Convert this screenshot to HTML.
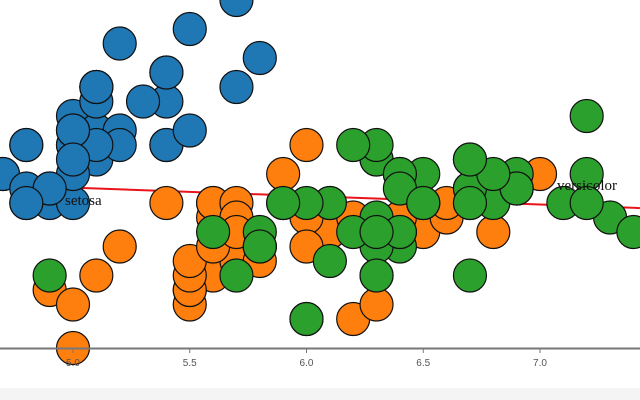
<!DOCTYPE html>
<html><head><meta charset="utf-8"><style>
html,body{margin:0;padding:0;width:640px;height:400px;overflow:hidden;background:#fff}
svg{display:block}
</style></head><body>
<svg id="chart" width="640" height="400">
<rect x="0" y="388" width="640" height="12" fill="#f4f4f4"/>
<g id="ann"></g>
<g id="pts"></g>
<g id="axis"></g>
<g id="labels"></g>
</svg>
<script>
const setosaLen=[5.1,4.9,4.7,4.6,5.0,5.4,4.6,5.0,4.4,4.9,5.4,4.8,4.8,4.3,5.8,5.7,5.4,5.1,5.7,5.1,5.4,5.1,4.6,5.1,4.8,5.0,5.0,5.2,5.2,4.7,4.8,5.4,5.2,5.5,4.9,5.0,5.5,4.9,4.4,5.1,5.0,4.5,4.4,5.0,5.1,4.8,5.1,4.6,5.3,5.0];
const setosaWid=[3.5,3.0,3.2,3.1,3.6,3.9,3.4,3.4,2.9,3.1,3.7,3.4,3.0,3.0,4.0,4.4,3.9,3.5,3.8,3.8,3.4,3.7,3.6,3.3,3.4,3.0,3.4,3.5,3.4,3.2,3.1,3.4,4.1,4.2,3.1,3.2,3.5,3.1,3.0,3.4,3.5,2.3,3.2,3.5,3.8,3.0,3.8,3.2,3.7,3.3];
const versLen=[7.0,6.4,6.9,5.5,6.5,5.7,6.3,4.9,6.6,5.2,5.0,5.9,6.0,6.1,5.6,6.7,5.6,5.8,6.2,5.6,5.9,6.1,6.3,6.1,6.4,6.6,6.8,6.7,6.0,5.7,5.5,5.5,5.8,6.0,5.4,6.0,6.7,6.3,5.6,5.5,5.5,6.1,5.8,5.0,5.6,5.7,5.7,6.2,5.1,5.7];
const versWid=[3.2,3.2,3.1,2.3,2.8,2.8,3.3,2.4,2.9,2.7,2.0,3.0,2.2,2.9,2.9,3.1,3.0,2.7,2.2,2.5,3.2,2.8,2.5,2.8,2.9,3.0,2.8,3.0,2.9,2.6,2.4,2.4,2.7,2.7,3.0,3.4,3.1,2.3,3.0,2.5,2.6,3.0,2.6,2.3,2.7,3.0,2.9,2.9,2.5,2.8];
const virgLen=[6.3,5.8,7.1,6.3,6.5,7.6,4.9,7.3,6.7,7.2,6.5,6.4,6.8,5.7,5.8,6.4,6.5,7.7,7.7,6.0,6.9,5.6,7.7,6.3,6.7,7.2,6.2,6.1,6.4,7.2,7.4,7.9,6.4,6.3,6.1,7.7,6.3,6.4,6.0,6.9,6.7,6.9,5.8,6.8,6.7,6.7,6.3,6.5,6.2,5.9];
const virgWid=[3.3,2.7,3.0,2.9,3.0,3.0,2.5,2.9,2.5,3.6,3.2,2.7,3.0,2.5,2.8,3.2,3.0,3.8,2.6,2.2,3.2,2.8,2.8,2.7,3.3,3.2,2.8,3.0,2.8,3.0,2.8,3.8,2.8,2.8,2.6,3.0,3.4,3.1,3.0,3.1,3.1,3.1,2.7,3.2,3.3,3.0,2.5,3.0,3.4,3.0];
const xTicks=[5.0,5.5,6.0,6.5,7.0];
const xTickLabels=["5.0","5.5","6.0","6.5","7.0"];
const lineXs=[4.687,7.428];
const lineYs=[3.124,2.965];
const NS="http://www.w3.org/2000/svg";
function x(v){return 73+(v-5.0)*233.5;}
function y(v){return 348-(v-2.0)*145;}
function mk(t,a,p){const e=document.createElementNS(NS,t);for(const k in a)e.setAttribute(k,a[k]);p.appendChild(e);return e;}
const ann=document.getElementById('ann');
const rl=mk('line',{x1:x(lineXs[0]),y1:y(lineYs[0]),x2:x(lineXs[1]),y2:y(lineYs[1]),stroke:'#e8141a','stroke-width':2},ann);


const pts=document.getElementById('pts');
const series=[[setosaLen,setosaWid,'#1f77b4','setosa'],[versLen,versWid,'#ff7f0e','versicolor'],[virgLen,virgWid,'#2ca02c','virginica']];
series.forEach(s=>{
  s[0].forEach((v,i)=>{
    const c=mk('circle',{cx:x(v),cy:y(s[1][i]),r:16.5,fill:s[2],stroke:'#111','stroke-width':1.2},pts);
    
    
  });
});
const ax=document.getElementById('axis');
const al=mk('line',{x1:0,y1:348.5,x2:640,y2:348.5,stroke:'#777','stroke-width':2},ax);


xTicks.forEach((t,i)=>{
  const tk=mk('line',{x1:x(t),y1:349,x2:x(t),y2:353,stroke:'#777','stroke-width':1},ax);
  
  
  const tl=mk('text',{x:x(t),y:366,'text-anchor':'middle','font-family':'Liberation Sans, sans-serif','font-size':10,fill:'#555'},ax);
  tl.textContent=xTickLabels[i];
  
  
});
const lb=document.getElementById('labels');
const l1=mk('text',{x:65,y:205,'font-family':'Liberation Serif, serif','font-size':15,fill:'#111'},lb);
l1.textContent='setosa';


const l2=mk('text',{x:557,y:190,'font-family':'Liberation Serif, serif','font-size':15,fill:'#111'},lb);
l2.textContent='versicolor';


</script>
</body></html>
